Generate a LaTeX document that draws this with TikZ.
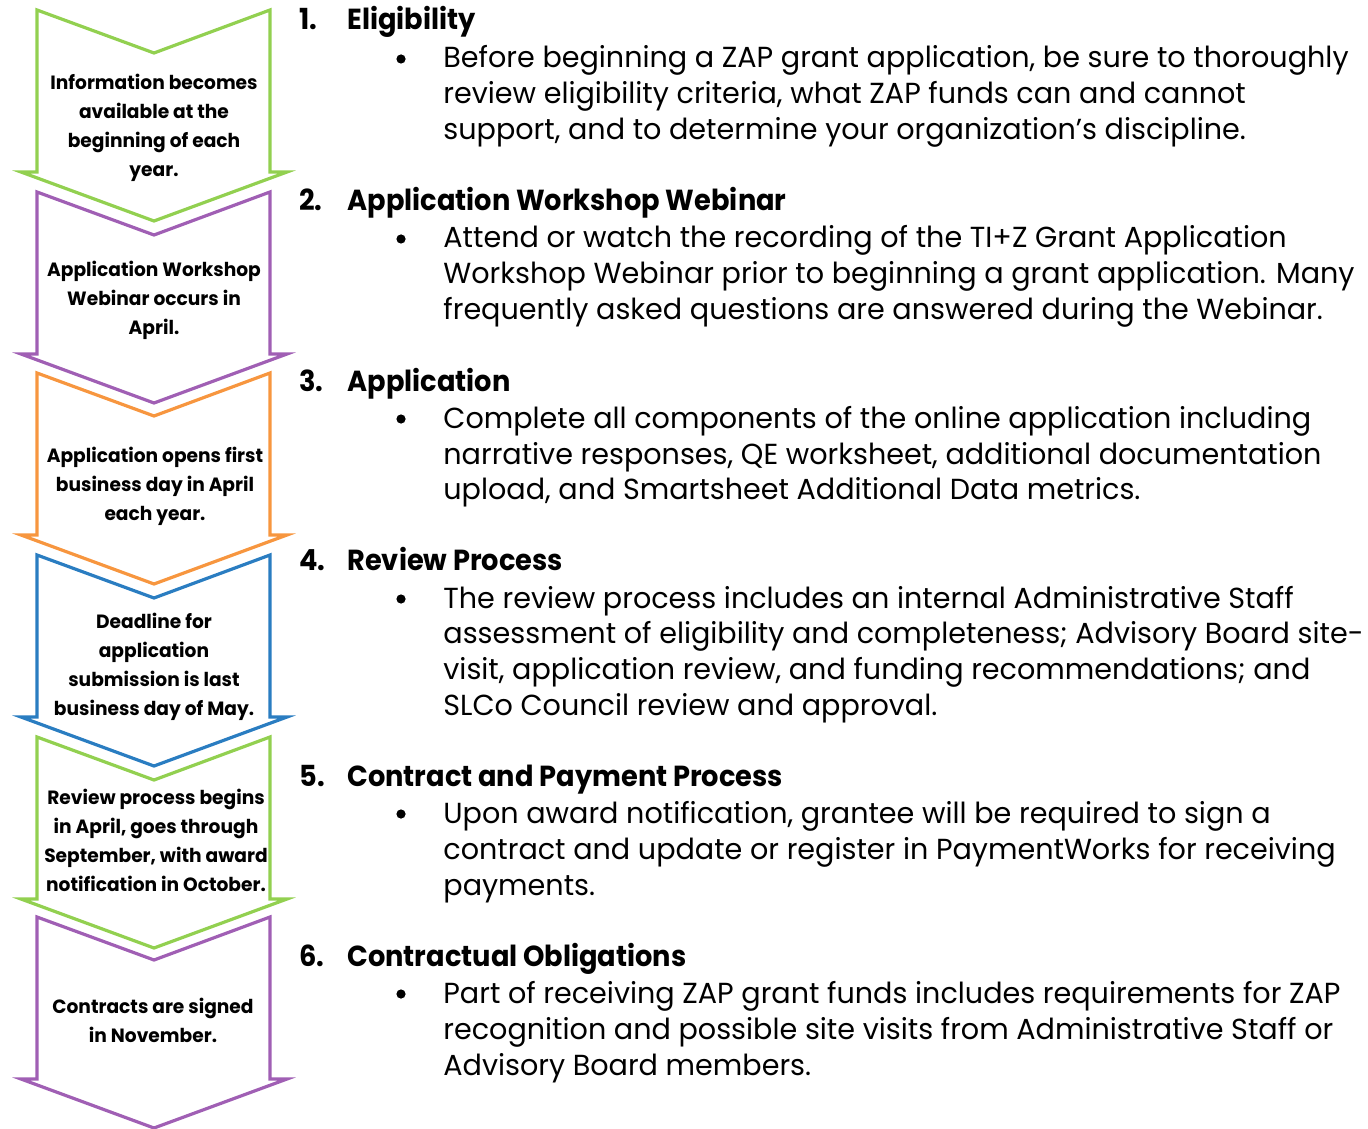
\documentclass[tikz,border=0pt]{standalone}
\usepackage{fontspec}
\setmainfont{Poppins}[FakeStretch=0.987]
\newfontfamily\headfont{Poppins}[FakeStretch=0.94]
\newfontfamily\chevfont{Poppins}[FakeStretch=0.97]
\begin{document}
\begin{tikzpicture}[x=0.5pt,y=-0.5pt,
  chevline/.style={line width=1.6pt,line join=miter},
  chevtext/.style={anchor=base,inner sep=0pt,font=\fontsize{9.6}{12}\selectfont\chevfont\bfseries},
  headnum/.style={anchor=base west,inner sep=0pt,font=\fontsize{14.5}{18}\selectfont\headfont\bfseries},
  headtitle/.style={anchor=base west,inner sep=0pt,font=\fontsize{14.5}{18}\selectfont\headfont\bfseries},
  bodyline/.style={anchor=base west,inner sep=0pt,font=\fontsize{14.5}{18}\selectfont},
  bulletmark/.style={circle,fill=black,inner sep=0pt,minimum size=4.6pt}]
\definecolor{chevgreen}{HTML}{92D050}
\definecolor{chevpurple}{HTML}{A05FB4}
\definecolor{chevorange}{HTML}{F7963F}
\definecolor{chevblue}{HTML}{2A7DC1}
\useasboundingbox (0,0) rectangle (1368,1128);
\clip (0,0) rectangle (1368,1128);
% chevron outline: top edge with notch, straight sides, flanged arrow head
\newcommand\chevronat[2]{%
  \draw[chevline,draw=#2] (37,#1) -- (154,#1+43) -- (270,#1) -- (270,#1+162)
    -- (287,#1+162) -- (154,#1+211) -- (21,#1+162) -- (37,#1+162) -- cycle;}
\chevronat{10}{chevgreen}
\chevronat{192}{chevpurple}
\chevronat{373}{chevorange}
\chevronat{555}{chevblue}
\chevronat{737}{chevgreen}
\chevronat{917}{chevpurple}

% texts inside the chevrons
\node[chevtext] (c1a) at (154,90) {Information becomes};
\node[chevtext] (c1b) at (154,119) {available at the};
\node[chevtext] (c1c) at (154,148) {beginning of each};
\node[chevtext] (c1d) at (154,177) {year.};
\node[chevtext] (c2a) at (154,277) {Application Workshop};
\node[chevtext] (c2b) at (154,306) {Webinar occurs in};
\node[chevtext] (c2c) at (154,335) {April.};
\node[chevtext] (c3a) at (155,462) {Application opens first};
\node[chevtext] (c3b) at (155,491) {business day in April};
\node[chevtext] (c3c) at (155,520) {each year.};
\node[chevtext] (c4a) at (154,628) {Deadline for};
\node[chevtext] (c4b) at (154,657) {application};
\node[chevtext] (c4c) at (154,686) {submission is last};
\node[chevtext] (c4d) at (154,715) {business day of May.};
\node[chevtext] (c5a) at (156,804) {Review process begins};
\node[chevtext] (c5b) at (156,833) {in April, goes through};
\node[chevtext] (c5c) at (156,862) {September, with award};
\node[chevtext] (c5d) at (156,891) {notification in October.};
\node[chevtext] (c6a) at (153,1013) {Contracts are signed};
\node[chevtext] (c6b) at (153,1042) {in November.};

% numbered steps
\node[headnum] (n1) at (299,30) {1.};
\node[headtitle] (h1) at (347,30) {Eligibility};
\node[bulletmark] (b1) at (401,59) {};
\node[bodyline] (t1a) at (443,68) {Before beginning a ZAP grant application, be sure to thoroughly};
\node[bodyline] (t1b) at (443,104) {review eligibility criteria, what ZAP funds can and cannot};
\node[bodyline] (t1c) at (443,140) {support, and to determine your organization’s discipline.};

\node[headnum] (n2) at (299,211) {2.};
\node[headtitle] (h2) at (347,211) {Application Workshop Webinar};
\node[bulletmark] (b2) at (401,239) {};
\node[bodyline] (t2a) at (443,248) {Attend or watch the recording of the TI+Z Grant Application};
\node[bodyline] (t2b) at (443,284) {Workshop Webinar prior to beginning a grant application. Many};
\node[bodyline] (t2c) at (443,320) {frequently asked questions are answered during the Webinar.};

\node[headnum] (n3) at (299,391) {3.};
\node[headtitle] (h3) at (347,391) {Application};
\node[bulletmark] (b3) at (401,419) {};
\node[bodyline] (t3a) at (443,428) {Complete all components of the online application including};
\node[bodyline] (t3b) at (443,464) {narrative responses, QE worksheet, additional documentation};
\node[bodyline] (t3c) at (443,499) {upload, and Smartsheet Additional Data metrics.};

\node[headnum] (n4) at (299,570) {4.};
\node[headtitle] (h4) at (347,570) {Review Process};
\node[bulletmark] (b4) at (401,599) {};
\node[bodyline] (t4a) at (443,608) {The review process includes an internal Administrative Staff};
\node[bodyline] (t4b) at (443,643) {assessment of eligibility and completeness; Advisory Board site-};
\node[bodyline] (t4c) at (443,679) {visit, application review, and funding recommendations; and};
\node[bodyline] (t4d) at (443,715) {SLCo Council review and approval.};

\node[headnum] (n5) at (299,786) {5.};
\node[headtitle] (h5) at (347,786) {Contract and Payment Process};
\node[bulletmark] (b5) at (401,814) {};
\node[bodyline] (t5a) at (443,823) {Upon award notification, grantee will be required to sign a};
\node[bodyline] (t5b) at (443,859) {contract and update or register in PaymentWorks for receiving};
\node[bodyline] (t5c) at (443,895) {payments.};

\node[headnum] (n6) at (299,966) {6.};
\node[headtitle] (h6) at (347,966) {Contractual Obligations};
\node[bulletmark] (b6) at (401,994) {};
\node[bodyline] (t6a) at (443,1003) {Part of receiving ZAP grant funds includes requirements for ZAP};
\node[bodyline] (t6b) at (443,1039) {recognition and possible site visits from Administrative Staff or};
\node[bodyline] (t6c) at (443,1075) {Advisory Board members.};
\end{tikzpicture}
\end{document}
